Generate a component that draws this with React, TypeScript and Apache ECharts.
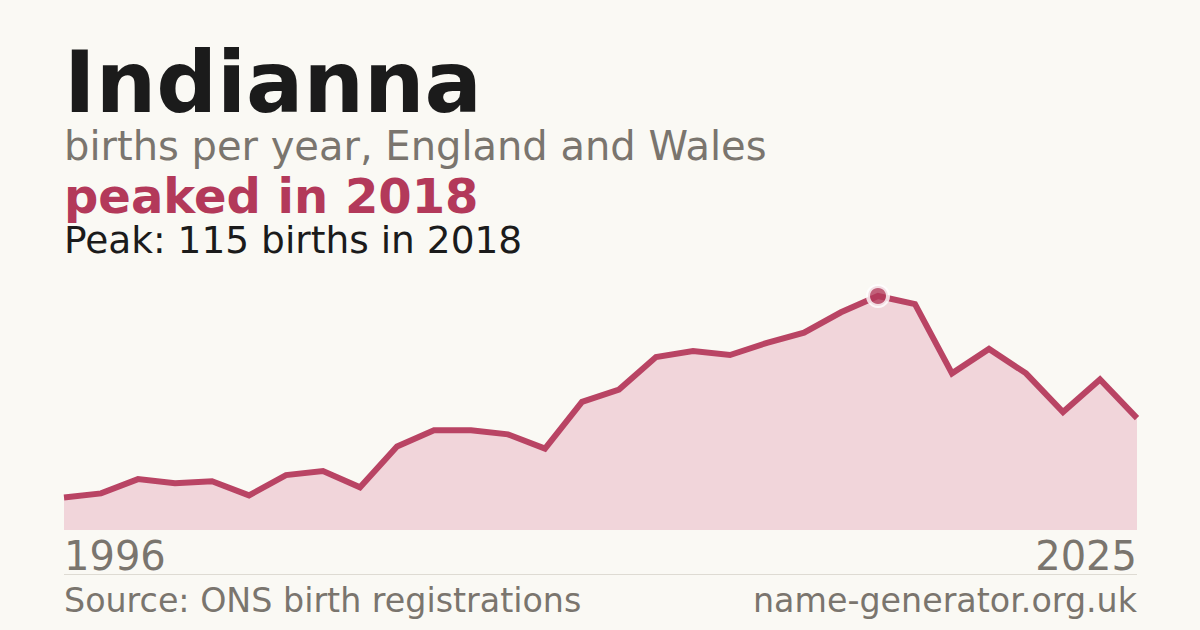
import React, { useEffect, useRef } from "react";
import * as echarts from "echarts";

const years: string[] = [
  "1996", "1997", "1998", "1999", "2000", "2001", "2002", "2003", "2004", "2005",
  "2006", "2007", "2008", "2009", "2010", "2011", "2012", "2013", "2014", "2015",
  "2016", "2017", "2018", "2019", "2020", "2021", "2022", "2023", "2024", "2025",
];
const births: number[] = [
  16, 18, 25, 23, 24, 17, 27, 29, 21, 41,
  49, 49, 47, 40, 63, 69, 85, 88, 86, 92,
  97, 107, 115, 111, 77, 89, 77, 58, 74, 55,
];
const nameTitle = "Indianna";
const subtitle = "births per year, England and Wales";
const sourceText = "Source: ONS birth registrations";
const siteText = "name-generator.org.uk";

const FONT = "'DejaVu Sans', Verdana, sans-serif";
const ACCENT = "#b3395a";
const LINE = "#b94464";
const GREY = "#7a756e";
const BG = "#faf9f4";

export default function App() {
  const ref = useRef<HTMLDivElement>(null);
  useEffect(() => {
    if (!ref.current) return;
    const chart = echarts.init(ref.current, undefined, { renderer: "svg" });
    const peakVal = Math.max(...births);
    const peakIdx = births.indexOf(peakVal);
    const peakYear = years[peakIdx];
    chart.setOption({
      animation: false,
      backgroundColor: BG,
      grid: { left: 64, right: 63, top: 296, bottom: 100 },
      xAxis: {
        type: "category",
        data: years,
        boundaryGap: false,
        axisLine: { show: false },
        axisTick: { show: false },
        axisLabel: { show: false },
        splitLine: { show: false },
      },
      yAxis: {
        type: "value",
        min: 0,
        max: peakVal,
        axisLine: { show: false },
        axisTick: { show: false },
        axisLabel: { show: false },
        splitLine: { show: false },
      },
      series: [
        {
          type: "line",
          data: births,
          clip: false,
          showSymbol: false,
          symbol: "none",
          lineStyle: { color: LINE, width: 6, opacity: 1, join: "miter" },
          areaStyle: { color: "#f1d5da", opacity: 1 },
          z: 2,
        },
        {
          type: "scatter",
          data: [[peakIdx, peakVal]],
          symbol: "circle",
          symbolSize: 20,
          clip: false,
          itemStyle: { color: ACCENT, borderColor: "#ffffff", borderWidth: 4 },
          z: 3,
        },
      ],
      graphic: [
        {
          type: "text", left: 64, y: 82,
          style: { text: nameTitle, font: `bold 85px ${FONT}`, lineHeight: 70, fill: "#1b1b1b", verticalAlign: "middle" },
        },
        {
          type: "text", left: 64, y: 146,
          style: { text: subtitle, font: `40px ${FONT}`, lineHeight: 34, fill: GREY, verticalAlign: "middle" },
        },
        {
          type: "text", left: 64, y: 196,
          style: { text: `peaked in ${peakYear}`, font: `bold 48px ${FONT}`, lineHeight: 40, fill: ACCENT, verticalAlign: "middle" },
        },
        {
          type: "text", left: 64, y: 240,
          style: { text: `Peak: ${peakVal} births in ${peakYear}`, font: `37.5px ${FONT}`, lineHeight: 32, fill: "#1b1b1b", verticalAlign: "middle" },
        },
        {
          type: "text", x: 64, y: 556,
          style: { text: years[0], font: `40px ${FONT}`, lineHeight: 34, fill: GREY, align: "left", verticalAlign: "middle" },
        },
        {
          type: "text", x: 1137, y: 556,
          style: { text: years[years.length - 1], font: `40px ${FONT}`, lineHeight: 34, fill: GREY, align: "right", verticalAlign: "middle" },
        },
        {
          type: "line",
          shape: { x1: 64, y1: 574.5, x2: 1137, y2: 574.5 },
          style: { stroke: "#dedbd3", lineWidth: 1 },
        },
        {
          type: "text", x: 64, y: 600,
          style: { text: sourceText, font: `33.3px ${FONT}`, lineHeight: 28, fill: GREY, align: "left", verticalAlign: "middle" },
        },
        {
          type: "text", x: 1137, y: 600,
          style: { text: siteText, font: `33.3px ${FONT}`, lineHeight: 28, fill: GREY, align: "right", verticalAlign: "middle" },
        },
      ],
    });
    return () => chart.dispose();
  }, []);
  return <div ref={ref} style={{ width: 1200, height: 630, position: "absolute", left: 0, top: 0 }} />;
}
